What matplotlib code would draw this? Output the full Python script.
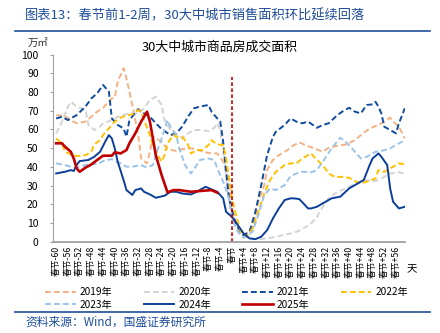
import matplotlib
matplotlib.use('Agg')
import matplotlib.pyplot as plt

plt.rcParams['font.family'] = ['Noto Sans CJK SC', 'DejaVu Sans']
plt.rcParams['axes.unicode_minus'] = False

# values (days relative to Spring Festival, 万㎡)
d2019 = [-60, -57, -55, -53, -50, -48, -46, -44, -41, -40, -39, -37, -36, -34, -32, -31, -29, -28, -27, -24, -22,
         -19, -17, -14, -12, -10, -7, -5, -3, -1, 0, 2, 4, 7, 9, 11, 12, 14, 16, 19, 21, 23, 25, 28, 31, 33, 36, 39,
         42, 44, 47, 50, 52, 54, 55, 57, 59]
v2019 = [67.7, 67.2, 65, 63.3, 64.2, 66.8, 69.5, 71.6, 76.6, 77, 85.5, 92.7, 87.3, 73.1, 57, 44.5, 41.9, 48.1, 56.1,
         53.5, 49.5, 48.5, 49.5, 49.9, 49.4, 48.1, 47.2, 47.2, 42.8, 32.1, 17.8, 7.1, 3.5, 7.1, 21.4, 30.3, 38.3, 43.7,
         46.3, 49, 51.5, 53.1, 51.7, 49.9, 48.1, 50.2, 51.3, 52, 54.3, 57, 60.6, 62.4, 64.2, 66.3, 64.2, 61.5, 55.2]

d2020 = [-60, -58, -56, -55, -53, -50, -49, -47, -45, -44, -41, -39, -37, -35, -32, -30, -28, -26, -24, -23, -21,
         -19, -17, -15, -13, -11, -8, -6, -5, -4, -3, -2, -1, 1, 3, 6, 10, 13, 16, 20, 22, 24, 27, 29, 31, 33, 36, 39,
         42, 45, 49, 51, 54, 57, 59]
v2020 = [57.9, 64.2, 72.2, 74.8, 72.2, 70.4, 62.4, 59.7, 61.5, 63.3, 65, 66.8, 67.7, 68.6, 68.6, 71.3, 75.7, 77.5,
         73.1, 65, 59.7, 57, 55.2, 57.9, 59.7, 59.7, 59.2, 60.9, 63.3, 59.7, 48.1, 35.6, 21.4, 8.9, 3.5, 1.8, 1.4, 2.1,
         3, 4.4, 5.3, 6.7, 9.8, 13.3, 18.7, 23.2, 26.7, 28.5, 31.2, 33, 32.4, 33.8, 36.5, 37.1, 36.5]

d2021 = [-60, -58, -56, -54, -53, -50, -48, -46, -44, -42, -41, -39, -37, -36, -35, -32, -31, -28, -26, -24, -21,
         -19, -17, -15, -13, -11, -8, -7, -5, -4, -3, -2, -1, 1, 3, 4, 6, 8, 10, 12, 14, 15, 18, 20, 22, 24, 26, 29,
         31, 33, 36, 38, 40, 42, 44, 46, 48, 49, 50, 51, 52, 54, 56, 57, 59]
v2021 = [65.9, 66.8, 65, 66.8, 67.7, 72.2, 76.6, 79.3, 83.8, 80.2, 65.9, 62.4, 60.6, 56.1, 65, 70.9, 69.5, 66.8,
         63.3, 60.2, 57, 57.9, 61.5, 66.8, 71.3, 72.2, 73.1, 69.5, 65.9, 64.2, 53.5, 37.4, 23.2, 10.7, 5.3, 3.5, 5.3,
         16, 30.3, 46.3, 56.1, 58.8, 62.4, 65.9, 64.2, 63.3, 64.2, 60.9, 62.4, 63.3, 67.7, 69.9, 71.6, 69.5, 68.6,
         73.1, 73.4, 74.8, 72.2, 68.6, 61.5, 59.7, 57.9, 63.3, 71.3]

d2022 = [-60, -58, -57, -55, -53, -50, -48, -47, -45, -44, -42, -40, -38, -36, -34, -32, -31, -30, -28, -27, -25,
         -24, -23, -22, -20, -19, -17, -15, -14, -12, -10, -8, -7, -5, -3, -2, -1, 0, 2, 3, 5, 7, 9, 11, 13, 15, 18,
         20, 22, 24, 27, 29, 31, 33, 35, 37, 40, 42, 44, 46, 49, 50, 52, 54, 56, 57, 59]
v2022 = [55.2, 52.6, 48.1, 46.7, 45.8, 46.3, 48.1, 52, 54.3, 57, 60.6, 64.2, 66.3, 67.4, 68.1, 70.4, 69.5, 65, 57,
         51.7, 45.4, 42.8, 46.3, 52.6, 57, 56.1, 56.1, 52, 47.2, 49, 49, 51.7, 54.3, 52, 51.7, 44.5, 33.8, 23.2, 10.7,
         5.3, 2.7, 7.1, 16, 25.8, 33, 37.4, 41, 41.9, 41.9, 44.5, 47.2, 43.7, 41, 36.5, 34.7, 34.7, 34.2, 32.4, 31.2,
         32.1, 33.8, 38.3, 37.4, 39.2, 41, 41.9, 41.4]

d2023 = [-60, -57, -55, -53, -50, -48, -46, -44, -41, -40, -38, -36, -34, -31, -29, -27, -26, -24, -22, -21, -19,
         -18, -16, -14, -12, -11, -8, -6, -5, -3, -1, 0, 2, 4, 7, 9, 11, 13, 15, 18, 20, 22, 24, 27, 29, 31, 34, 37,
         39, 41, 44, 46, 49, 51, 54, 56, 59]
v2023 = [41.9, 41, 40.1, 39.6, 41, 41.9, 41.3, 43.1, 44.2, 43.1, 41.9, 40.1, 40.1, 41, 39.6, 41, 46.3, 55.2, 65,
         61.5, 57, 49.9, 41, 36.5, 41, 43.7, 44.5, 43.7, 39.2, 32.1, 23.2, 12.5, 5.3, 2.1, 5.3, 14.2, 24.9, 28.5, 27.6,
         30.3, 35, 36.5, 37.4, 37.1, 38.3, 42.8, 49.9, 55.6, 53.1, 49.9, 44.5, 45.4, 48.1, 48.5, 49.9, 51.7, 54.3]

d2024 = [-60, -57, -55, -54, -53, -52, -49, -47, -45, -43, -42, -41, -40, -39, -37, -36, -34, -33, -31, -30, -28,
         -26, -23, -21, -19, -17, -14, -12, -10, -9, -7, -5, -3, -2, 0, 2, 4, 6, 8, 10, 12, 14, 16, 18, 20, 21, 23,
         26, 27, 29, 31, 34, 37, 40, 43, 45, 47, 48, 50, 51, 53, 54, 55, 57, 59]
v2024 = [36.5, 37.4, 38.3, 37.8, 41, 43.1, 43.7, 45.4, 48.1, 54.3, 57, 55.2, 49.9, 42.8, 33, 27.6, 25, 27.6, 28.5,
         26.7, 25.3, 23.5, 24.6, 26.7, 26.7, 25.8, 25.3, 26.7, 28.5, 29.4, 28, 26.7, 23.2, 16, 13.3, 8.9, 4.4, 1.8,
         1.4, 2.7, 6.2, 12.5, 17.8, 22.3, 23.2, 23.2, 22.8, 17.8, 17.8, 18.7, 20.5, 23.2, 24.1, 28.5, 31.2, 33, 41,
         44.5, 47.2, 45.4, 41, 28.5, 21.4, 17.8, 18.7]

d2025 = [-60, -58, -57, -55, -54, -53, -52, -50, -48, -46, -44, -41, -40, -38, -36, -35, -33, -31, -29, -28, -26,
         -24, -22, -20, -18, -14, -11, -7, -5]
v2025 = [52.6, 52.6, 50.8, 48.1, 44.5, 39.2, 37.4, 39.6, 41.3, 43.7, 46, 46, 47.8, 47.2, 49, 52.6, 57.9, 64.2, 69.5,
         64.2, 46.3, 35.6, 26.4, 27.6, 27.6, 26.7, 27.1, 27.6, 26.2]

years = ['2019年', '2020年', '2021年', '2022年', '2023年', '2024年', '2025年']
ticks = list(range(-60, 57, 4))
tick_labels = ['春节' if t == 0 else (f'春节+{t}' if t > 0 else f'春节{t}') for t in ticks]

blue = '#1F4E9A'
fig = plt.figure(figsize=(4.4, 3.33), dpi=100)
ax = fig.add_axes([0.121, 0.274, 0.799, 0.562])

dash = (0, (3.0, 1.6))
series = [
    (d2019, v2019, '#F4B183', dash),
    (d2020, v2020, '#D3D3D3', dash),
    (d2021, v2021, '#0F4C9E', dash),
    (d2022, v2022, '#FFC000', dash),
    (d2023, v2023, '#9DC3E6', dash),
    (d2024, v2024, '#0B3F9A', '-'),
    (d2025, v2025, '#C00000', '-'),
]
handles = []
for (d, v, c, ls), name in zip(series, years):
    lw = 1.9 if name == '2025年' else 1.4
    h, = ax.plot(d, v, color=c, ls=ls, lw=lw, label=name)
    handles.append(h)

ax.vlines(0, 0, 88, colors='#C00000', linestyles=(0, (2.2, 1.4)), lw=1.2)

ax.set_xlim(-61, 59)
ax.set_ylim(0, 100)
ax.set_yticks(range(0, 101, 10))
ax.set_xticks(ticks)
ax.set_xticklabels(tick_labels, rotation=90, fontsize=6.3)
ax.tick_params(axis='x', length=0, pad=3)
ax.tick_params(axis='y', labelsize=7.5, length=2.5, color='#A0A0A0', pad=8)
for s in ['top', 'right']:
    ax.spines[s].set_visible(False)
ax.spines['left'].set_color('#A0A0A0')
ax.spines['bottom'].set_color('#A0A0A0')
ax.spines['bottom'].set_linewidth(1.3)

fig.text(0.5, 0.858, '30大中城市商品房成交面积', ha='center', va='center', fontsize=9.3)
fig.text(0.064, 0.87, '万㎡', ha='left', va='center', fontsize=7.5, color='#333333')
fig.text(0.925, 0.19, '天', ha='left', va='center', fontsize=7.5)

fig.text(0.057, 0.953, '图表13：春节前1-2周，30大中城市销售面积环比延续回落', ha='left', va='center',
         fontsize=9.5, color=blue)
fig.add_artist(plt.Line2D([0.034, 0.978], [0.907, 0.907], color=blue, lw=1.2, transform=fig.transFigure))
fig.add_artist(plt.Line2D([0.034, 0.978], [0.063, 0.063], color=blue, lw=1.2, transform=fig.transFigure))
fig.text(0.057, 0.033, '资料来源：Wind，国盛证券研究所', ha='left', va='center', fontsize=8.5, color=blue)

# column-major fill, reorder so it reads row by row
order = [0, 4, 1, 5, 2, 6, 3]
fig.legend([handles[i] for i in order], [years[i] for i in order], ncol=4, loc='center',
           bbox_to_anchor=(0.515, 0.104), frameon=False, fontsize=7.3, handlelength=3.0,
           columnspacing=3.1, handletextpad=0.4, labelspacing=0.25)

fig.savefig('out.png', dpi=100)
